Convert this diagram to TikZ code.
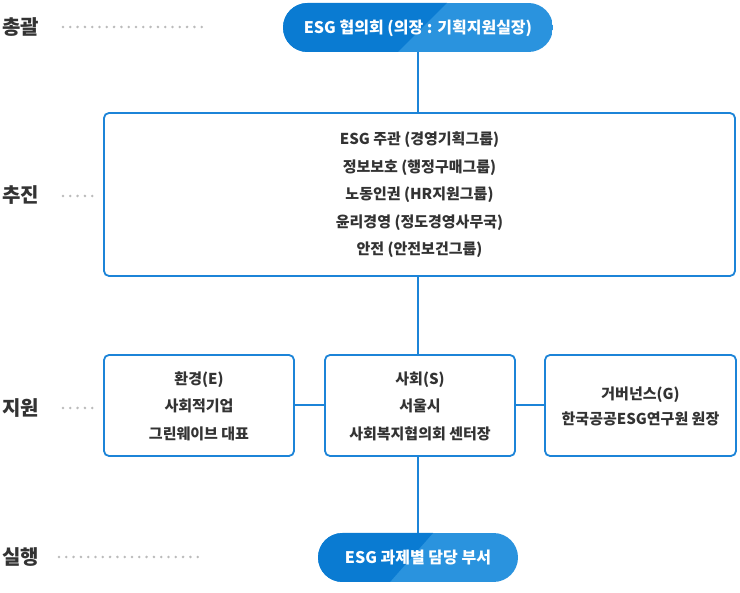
\documentclass[tikz,border=0pt]{standalone}
\usepackage{fontspec}
\setmainfont{Noto Sans CJK KR}
\usetikzlibrary{calc}
\definecolor{bdark}{HTML}{0A7BD2}
\definecolor{blight}{HTML}{2A93DE}
\definecolor{bline}{HTML}{1C84D8}
\definecolor{txt}{HTML}{333333}
\definecolor{dotc}{HTML}{BBBBBB}
\tikzset{
  box/.style={draw=bline, line width=1.8pt, rounded corners=5pt, fill=white},
  conn/.style={draw=bline, line width=1.8pt},
  lvl/.style={font=\fontsize{20}{22}\selectfont\bfseries, text=txt, anchor=west, inner sep=0pt},
  dots/.style={draw=dotc, line width=2.8pt, line cap=round, dash pattern=on 0pt off 7.3pt},
  btxt/.style={font=\bfseries\fontsize{15}{27.5}\selectfont, text=txt, align=center},
  ptxt/.style={font=\fontsize{16}{18}\selectfont\bfseries, text=white},
}
\begin{document}
\begin{tikzpicture}[x=1pt,y=-1pt]
\useasboundingbox (0,0) rectangle (740,593);
% level labels
\node[lvl] (l1) at (2,27.5) {총괄};
\node[lvl] (l2) at (2,195.5) {추진};
\node[lvl] (l3) at (2,408) {지원};
\node[lvl] (l4) at (2,557) {실행};
\draw[dots] (63,27) -- (202,27);
\draw[dots] (63,196) -- (99,196);
\draw[dots] (63,408) -- (99,408);
\draw[dots] (59,557) -- (198,557);
% top pill
\begin{scope}
\clip[rounded corners=24.5pt] (283,3) rectangle (553,52);
\fill[blight] (283,3) rectangle (553,52);
\fill[bdark] (283,3) -- (447,3) -- (398,52) -- (283,52) -- cycle;
\end{scope}
\node[ptxt] (top) at (418,28) {ESG 협의회 (의장 : 기획지원실장)};
\coordinate (topb) at (418,52);
% bottom pill
\begin{scope}
\clip[rounded corners=24.5pt] (318,533) rectangle (518,582);
\fill[blight] (318,533) rectangle (518,582);
\fill[bdark] (318,533) -- (433,533) -- (390,582) -- (318,582) -- cycle;
\end{scope}
\node[ptxt] (bot) at (418,557.5) {ESG 과제별 담당 부서};
\coordinate (bott) at (418,533);
% big box
\draw[box] (104,113) rectangle (735,276);
\node[btxt] (big) at (419.5,195) {ESG 주관 (경영기획그룹)\\정보보호 (행정구매그룹)\\노동인권 (HR지원그룹)\\윤리경영 (정도경영사무국)\\안전 (안전보건그룹)};
\coordinate (bigt) at (418,113);
\coordinate (bigb) at (418,276);
% three boxes
\draw[box] (104,355) rectangle (294,456);
\draw[box] (325,355) rectangle (515,456);
\draw[box] (545,355) rectangle (736,456);
\node[btxt] (e) at (199,406) {환경(E)\\사회적기업\\그린웨이브 대표};
\node[btxt] (s) at (420,406) {사회(S)\\서울시\\사회복지협의회 센터장};
\node[btxt, font=\bfseries\fontsize{15}{25}\selectfont] (g) at (640.5,406) {거버넌스(G)\\한국공공ESG연구원 원장};
\coordinate (el) at (294,405);
\coordinate (sl) at (325,405);
\coordinate (sr) at (515,405);
\coordinate (gl) at (545,405);
\coordinate (st) at (418,355);
\coordinate (sb) at (418,456);
% connectors
\draw[conn] (topb) -- (bigt);
\draw[conn] (bigb) -- (st);
\draw[conn] (sb) -- (bott);
\draw[conn] (el) -- (sl);
\draw[conn] (sr) -- (gl);
\end{tikzpicture}
\end{document}
